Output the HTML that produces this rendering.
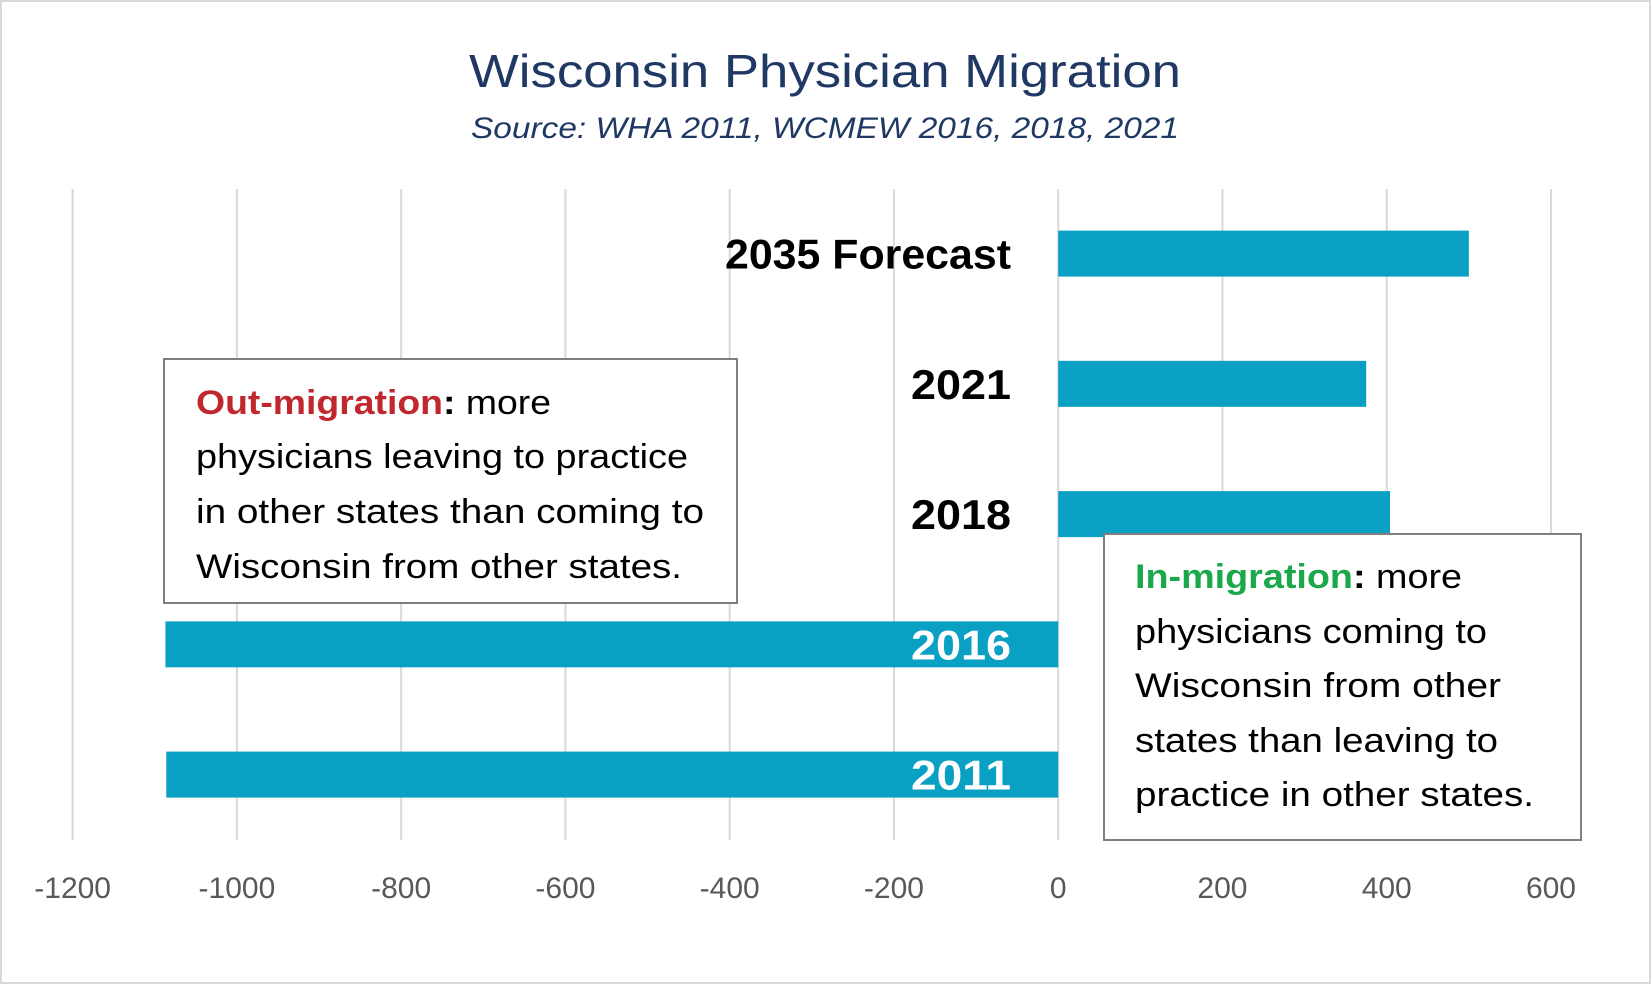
<!DOCTYPE html>
<html><head><meta charset="utf-8"><style>
html,body{margin:0;padding:0;background:#fff;}
svg{display:block;font-family:"Liberation Sans",sans-serif;}
</style></head><body>
<svg id="chart" width="1651" height="984" viewBox="0 0 1651 984">
<rect x="1" y="1" width="1649" height="982" fill="#fff" stroke="#d9d9d9" stroke-width="2"/>
<text x="825" y="87" text-anchor="middle" font-size="46" fill="#1f3864" textLength="712" lengthAdjust="spacingAndGlyphs">Wisconsin Physician Migration</text>
<text x="825" y="138" text-anchor="middle" font-size="30" font-style="italic" fill="#1f3864" textLength="708" lengthAdjust="spacingAndGlyphs">Source: WHA 2011, WCMEW 2016, 2018, 2021</text>
<g id="grid"></g>
<g id="bars"></g>
<g id="ticks"></g>
<g id="labels"></g>
<g>
<rect x="164" y="359" width="573" height="244" fill="#fff" stroke="#7f7f7f" stroke-width="2"/>
<text font-size="34" fill="#000">
<tspan x="196" y="414" textLength="355" lengthAdjust="spacingAndGlyphs"><tspan font-weight="bold" fill="#c0282d">Out-migration</tspan><tspan font-weight="bold">:</tspan> more</tspan>
<tspan x="196" y="468" textLength="492" lengthAdjust="spacingAndGlyphs">physicians leaving to practice</tspan>
<tspan x="196" y="523" textLength="508" lengthAdjust="spacingAndGlyphs">in other states than coming to</tspan>
<tspan x="196" y="578" textLength="486" lengthAdjust="spacingAndGlyphs">Wisconsin from other states.</tspan>
</text></g>
<g>
<rect x="1104" y="534" width="477" height="306" fill="#fff" stroke="#7f7f7f" stroke-width="2"/>
<text font-size="34" fill="#000">
<tspan x="1135" y="588" textLength="327" lengthAdjust="spacingAndGlyphs"><tspan font-weight="bold" fill="#1aa84b">In-migration</tspan><tspan font-weight="bold">:</tspan> more</tspan>
<tspan x="1135" y="643" textLength="352" lengthAdjust="spacingAndGlyphs">physicians coming to</tspan>
<tspan x="1135" y="697" textLength="366" lengthAdjust="spacingAndGlyphs">Wisconsin from other</tspan>
<tspan x="1135" y="752" textLength="363" lengthAdjust="spacingAndGlyphs">states than leaving to</tspan>
<tspan x="1135" y="806" textLength="399" lengthAdjust="spacingAndGlyphs">practice in other states.</tspan>
</text></g>
</svg>
<script>
const categories = ["2035 Forecast","2021","2018","2016","2011"];
const values = [500, 375, 404, -1087, -1086];
const tickValues = [-1200,-1000,-800,-600,-400,-200,0,200,400,600];
const tickLabels = ["-1200","-1000","-800","-600","-400","-200","0","200","400","600"];

const NS="http://www.w3.org/2000/svg";
const x0=1058.2, pxPerUnit=0.8213;
const xs=v=>x0+v*pxPerUnit;
const rowTop=253.6, rowStep=130.25, barH=46;
const ys=i=>rowTop+i*rowStep;
function mk(tag,attrs,parent){const e=document.createElementNS(NS,tag);for(const k in attrs)e.setAttribute(k,attrs[k]);parent.appendChild(e);return e;}
const grid=document.getElementById('grid'),bars=document.getElementById('bars'),ticks=document.getElementById('ticks'),labels=document.getElementById('labels');
tickValues.forEach((v,i)=>{
  const l=mk('line',{x1:xs(v),x2:xs(v),y1:189,y2:840,stroke:'#d9d9d9','stroke-width':2},grid);
  
  
  const t=mk('text',{x:xs(v),y:898,'text-anchor':'middle','font-size':30,fill:'#595959'},ticks);
  t.textContent=tickLabels[i];
  
  
});
categories.forEach((c,i)=>{
  const v=values[i];
  const b=mk('rect',{x:Math.min(xs(0),xs(v)),y:ys(i)-barH/2,width:Math.abs(xs(v)-xs(0)),height:barH,fill:'#0aa0c4'},bars);
  
  
  const t=mk('text',{x:1011,y:ys(i)+15,'text-anchor':'end','font-size':42,'font-weight':'bold',fill:v<0?'#fff':'#000'},labels);
  if(c.length>6){t.setAttribute('textLength',286);t.setAttribute('lengthAdjust','spacingAndGlyphs');}
  else{t.setAttribute('textLength',100);t.setAttribute('lengthAdjust','spacingAndGlyphs');}
  t.textContent=c;
  
  
});
</script>
</body></html>
